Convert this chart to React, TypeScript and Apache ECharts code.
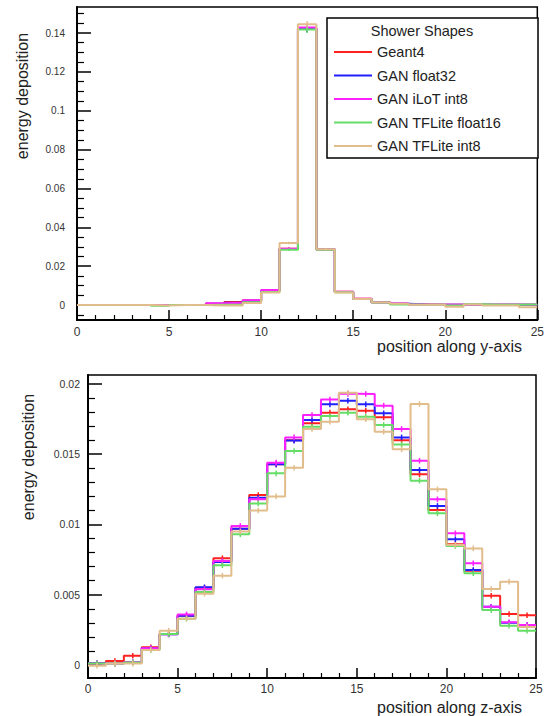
import React, { useEffect, useRef } from 'react';
import * as echarts from 'echarts';

const SERIES_NAMES = ['Geant4', 'GAN float32', 'GAN iLoT int8', 'GAN TFLite float16', 'GAN TFLite int8'];
const COLORS = ['#ff2020', '#2020ff', '#ff20ff', '#66dd66', '#e2bd8c'];
const FONT = '"Liberation Sans", Arial, Helvetica, sans-serif';

// Shower shape along y-axis (25 bins, bin i spans [i, i+1])
const Y_GEANT4 = [0, 0, 0, 0, 0, 0, 0, 0.0006, 0.0016, 0.0023, 0.0075, 0.029, 0.1423, 0.0287, 0.0068, 0.0032, 0.0014, 0.0007, 0.0003, 0.0002, 0.0001, 0.0002, 0.0001, 0.0001, 0.0001];
const Y_FLOAT32 = [0, 0, 0, 0, 0, 0, 0, 0.0007, 0.0012, 0.0022, 0.0074, 0.0288, 0.1421, 0.0287, 0.0067, 0.0031, 0.0013, 0.0006, 0.0003, 0.0002, 0.0001, 0.0002, 0.0001, 0.0001, 0.0001];
const Y_ILOT_INT8 = [0, 0, 0, 0, 0, 0, 0, 0.0009, 0.0012, 0.0025, 0.0078, 0.029, 0.1428, 0.0286, 0.0069, 0.0033, 0.0015, 0.0008, 0.0003, 0.0002, 0.0001, 0.0002, 0.0001, 0.0001, 0.0001];
const Y_TFL_FLOAT16 = [0, 0, 0, 0, -0.0004, 0, 0, 0.0002, 0.0003, 0.0015, 0.0067, 0.0285, 0.1418, 0.0285, 0.0066, 0.0031, 0.0013, 0.0003, 0.0002, 0.0002, -0.0003, 0.0004, 0.0001, 0.0001, 0.0003];
const Y_TFL_INT8 = [0, 0, 0, 0, -0.0003, 0, 0, -0.0003, -0.0002, 0.001, 0.0064, 0.0319, 0.1445, 0.0287, 0.0064, 0.0031, 0.0013, 0.0006, 0.0002, 0.0002, -0.0009, 0.0003, -0.0002, -0.0002, -0.0012];

// Shower shape along z-axis
const Z_GEANT4 = [0.00012, 0.00028, 0.00066, 0.00126, 0.0022, 0.0035, 0.0055, 0.0076, 0.0097, 0.0121, 0.01428, 0.016, 0.0172, 0.01796, 0.0182, 0.0181, 0.01763, 0.016, 0.01357, 0.01103, 0.0086, 0.0067, 0.00493, 0.00363, 0.00354];
const Z_FLOAT32 = [0.00012, 0.0001, 0.0002, 0.0012, 0.00218, 0.0035, 0.00553, 0.00733, 0.0097, 0.0119, 0.01428, 0.01597, 0.01744, 0.01855, 0.01881, 0.01855, 0.01791, 0.0162, 0.01388, 0.01132, 0.00895, 0.00676, 0.00415, 0.003, 0.00285];
const Z_ILOT_INT8 = [0.0001, 0.0001, 0.0002, 0.0012, 0.00218, 0.0036, 0.0054, 0.0074, 0.0099, 0.0118, 0.0144, 0.0162, 0.01779, 0.0189, 0.0193, 0.01929, 0.01846, 0.0168, 0.01454, 0.01179, 0.00937, 0.00724, 0.00415, 0.00304, 0.00285];
const Z_TFL_FLOAT16 = [0.0001, 0.0001, 0.00017, 0.00107, 0.0022, 0.0033, 0.0052, 0.0071, 0.0093, 0.0115, 0.01364, 0.01523, 0.01696, 0.01772, 0.01796, 0.01767, 0.01708, 0.0157, 0.01312, 0.0108, 0.00847, 0.00653, 0.00391, 0.0028, 0.00244];
const Z_TFL_INT8 = [-0.00005, 0.0001, 0.0001, 0.00107, 0.00244, 0.0033, 0.00508, 0.00636, 0.0095, 0.011, 0.012, 0.01404, 0.0168, 0.01732, 0.01938, 0.01749, 0.0166, 0.01535, 0.01858, 0.0125, 0.00854, 0.0083, 0.00541, 0.00593, 0.0027];

const TOP_SERIES = [Y_GEANT4, Y_FLOAT32, Y_ILOT_INT8, Y_TFL_FLOAT16, Y_TFL_INT8];
const BOTTOM_SERIES = [Z_GEANT4, Z_FLOAT32, Z_ILOT_INT8, Z_TFL_FLOAT16, Z_TFL_INT8];

const X_TICKS_MAX = 25;
const TOP_Y_TICKS = [0, 0.02, 0.04, 0.06, 0.08, 0.1, 0.12, 0.14];
const TOP_Y_MINOR = [-0.005, 0.005, 0.01, 0.015, 0.025, 0.03, 0.035, 0.045, 0.05, 0.055, 0.065, 0.07, 0.075, 0.085, 0.09, 0.095, 0.105, 0.11, 0.115, 0.125, 0.13, 0.135, 0.145, 0.15];
const BOTTOM_Y_TICKS = [0, 0.005, 0.01, 0.015, 0.02];
const BOTTOM_Y_MINOR = [0.001, 0.002, 0.003, 0.004, 0.006, 0.007, 0.008, 0.009, 0.011, 0.012, 0.013, 0.014, 0.016, 0.017, 0.018, 0.019];

const TOP_Y_RANGE = [-0.0077, 0.1534];
const BOTTOM_Y_RANGE = [-0.000925, 0.02064];

// error bar half-sizes
const TOP_ERR_REL = 0.01;
const TOP_ERR_ABS = 0.0003;
const Z_ERR = 0.0002;

const fmt = (v: number) => String(+Number(v).toPrecision(6));

function stepData(vals: number[]) {
  const d = vals.map((v, i) => [i, v]);
  d.push([vals.length, vals[vals.length - 1]]);
  return d;
}

export default function App() {
  const ref = useRef<HTMLDivElement>(null);
  useEffect(() => {
    if (!ref.current) return;
    const chart = echarts.init(ref.current, undefined, { renderer: 'svg' });

    const xAxisBase = (gridIndex: number, margin: number) => ({
      type: 'value',
      gridIndex,
      min: 0,
      max: X_TICKS_MAX,
      interval: 5,
      position: 'bottom',
      axisLine: { show: true, onZero: false, lineStyle: { color: '#000', width: 2 } },
      axisTick: { show: true, inside: true, length: 10, lineStyle: { color: '#000', width: 1.5 } },
      minorTick: { show: true, splitNumber: 5, length: 5, lineStyle: { color: '#000', width: 1.2 } },
      axisLabel: { margin, fontSize: 12, color: '#333', fontFamily: FONT },
      splitLine: { show: false },
    });

    const yMajor = (gridIndex: number, range: number[], ticks: number[], margin: number, fontSize: number) => ({
      type: 'value',
      gridIndex,
      position: 'left',
      min: range[0],
      max: range[1],
      axisLine: { show: true, onZero: false, lineStyle: { color: '#000', width: 2 } },
      axisTick: { show: true, inside: true, length: 14, customValues: ticks, lineStyle: { color: '#000', width: 1.5 } },
      axisLabel: { customValues: ticks, margin, fontSize, color: '#333', fontFamily: FONT, formatter: fmt },
      splitLine: { show: false },
    });
    const yMinor = (gridIndex: number, range: number[], ticks: number[]) => ({
      type: 'value',
      gridIndex,
      position: 'left',
      min: range[0],
      max: range[1],
      axisLine: { show: false, onZero: false },
      axisTick: { show: true, inside: true, length: 7, customValues: ticks, lineStyle: { color: '#000', width: 1.2 } },
      axisLabel: { show: false },
      splitLine: { show: false },
    });

    const series: any[] = [];
    const addGroup = (gridIndex: number, sets: number[][], errFn: (v: number) => number) => {
      sets.forEach((vals, k) => {
        series.push({
          type: 'line',
          name: SERIES_NAMES[k],
          xAxisIndex: gridIndex,
          yAxisIndex: gridIndex * 2,
          data: stepData(vals),
          step: 'end',
          symbol: 'none',
          silent: true,
          z: 2 + k * 0.1,
          lineStyle: { color: COLORS[k], width: 2 },
          itemStyle: { color: COLORS[k] },
        });
        series.push({
          type: 'custom',
          name: SERIES_NAMES[k] + ' err',
          xAxisIndex: gridIndex,
          yAxisIndex: gridIndex * 2,
          silent: true,
          z: 2 + k * 0.1,
          encode: { x: 0, y: [1, 2] },
          data: vals.map((v, i) => [i + 0.5, v - errFn(v), v + errFn(v)]),
          renderItem: (params: any, api: any) => {
            const x = api.value(0);
            const p1 = api.coord([x, api.value(1)]);
            const p2 = api.coord([x, api.value(2)]);
            return {
              type: 'line',
              shape: { x1: p1[0], y1: p1[1], x2: p2[0], y2: p2[1] },
              style: { stroke: COLORS[k], lineWidth: 1.5 },
            };
          },
        });
      });
    };
    addGroup(0, TOP_SERIES, (v) => Math.abs(v) * TOP_ERR_REL + TOP_ERR_ABS);
    addGroup(1, BOTTOM_SERIES, () => Z_ERR);

    const option: any = {
      animation: false,
      backgroundColor: '#fff',
      grid: [
        { left: 77, top: 7, right: 7, bottom: 396, show: true, borderColor: '#000', borderWidth: 1.5, backgroundColor: 'transparent' },
        { left: 88, top: 375, right: 11, bottom: 38, show: true, borderColor: '#000', borderWidth: 1.5, backgroundColor: 'transparent' },
      ],
      xAxis: [xAxisBase(0, 6), xAxisBase(1, 5)],
      yAxis: [
        yMajor(0, TOP_Y_RANGE, TOP_Y_TICKS, 12, 10),
        yMinor(0, TOP_Y_RANGE, TOP_Y_MINOR),
        yMajor(1, BOTTOM_Y_RANGE, BOTTOM_Y_TICKS, 8, 10.5),
        yMinor(1, BOTTOM_Y_RANGE, BOTTOM_Y_MINOR),
      ],
      legend: {
        data: SERIES_NAMES,
        orient: 'vertical',
        left: 334,
        top: 44,
        padding: 0,
        itemWidth: 38,
        itemHeight: 2,
        itemGap: 7.5,
        icon: 'rect',
        selectedMode: false,
        textStyle: { fontSize: 14.5, color: '#222', fontFamily: FONT, lineHeight: 16 },
      },
      graphic: [
        {
          type: 'rect',
          shape: { x: 327, y: 18, width: 211, height: 140 },
          style: { fill: '#fff', stroke: '#000', lineWidth: 1.5 },
        },
        {
          type: 'text',
          x: 422,
          y: 31,
          style: { text: 'Shower Shapes', fill: '#222', font: `14.5px ${FONT}`, textAlign: 'center', textVerticalAlign: 'middle' },
        },
        {
          type: 'text',
          x: 22,
          y: 96,
          rotation: Math.PI / 2,
          style: { text: 'energy deposition', fill: '#222', font: `16px ${FONT}`, textAlign: 'center', textVerticalAlign: 'middle' },
        },
        {
          type: 'text',
          x: 28,
          y: 457,
          rotation: Math.PI / 2,
          style: { text: 'energy deposition', fill: '#222', font: `16px ${FONT}`, textAlign: 'center', textVerticalAlign: 'middle' },
        },
        {
          type: 'text',
          x: 522,
          y: 346,
          style: { text: 'position along y-axis', fill: '#222', font: `16px ${FONT}`, textAlign: 'right', textVerticalAlign: 'middle' },
        },
        {
          type: 'text',
          x: 522,
          y: 707,
          style: { text: 'position along z-axis', fill: '#222', font: `16px ${FONT}`, textAlign: 'right', textVerticalAlign: 'middle' },
        },
      ],
      series,
    };
    chart.setOption(option);
    return () => chart.dispose();
  }, []);

  return <div ref={ref} style={{ position: 'fixed', left: 0, top: 0, width: 547, height: 716 }} />;
}
